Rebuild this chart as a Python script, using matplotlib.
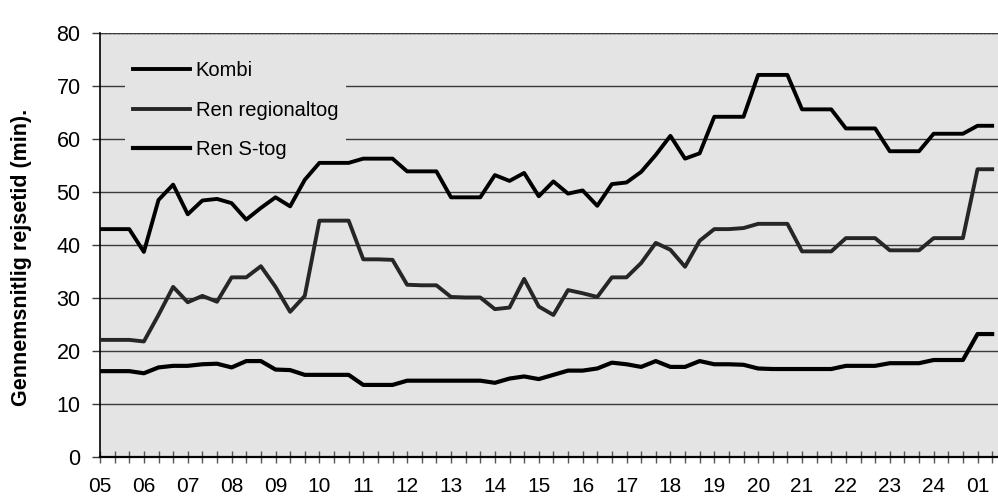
import numpy as np
import matplotlib
matplotlib.use("Agg")
import matplotlib.pyplot as plt

plt.rcParams['font.family'] = ['Liberation Sans', 'DejaVu Sans']

# one value every 20 minutes, 05:00 -> 01:20
kombi = [43, 43, 43, 38.7, 48.5, 51.4, 45.8, 48.4, 48.7, 47.9,
         44.8, 47, 49, 47.3, 52.3, 55.5, 55.5, 55.5, 56.3, 56.3,
         56.3, 53.9, 53.9, 53.9, 49, 49, 49, 53.2, 52.1, 53.6,
         49.2, 52, 49.7, 50.3, 47.4, 51.5, 51.8, 53.8, 57, 60.6,
         56.3, 57.3, 64.2, 64.2, 64.2, 72.1, 72.1, 72.1, 65.6, 65.6,
         65.6, 62, 62, 62, 57.7, 57.7, 57.7, 61, 61, 61,
         62.5, 62.5]
regional = [22.1, 22.1, 22.1, 21.8, 26.8, 32.1, 29.2, 30.4, 29.3, 33.9,
            33.9, 36, 32.1, 27.4, 30.4, 44.6, 44.6, 44.6, 37.3, 37.3,
            37.2, 32.5, 32.4, 32.4, 30.2, 30.1, 30.1, 27.9, 28.2, 33.6,
            28.4, 26.8, 31.5, 30.9, 30.2, 33.9, 33.9, 36.6, 40.4, 39.1,
            35.9, 40.8, 43, 43, 43.2, 44, 44, 44, 38.8, 38.8,
            38.8, 41.3, 41.3, 41.3, 39, 39, 39, 41.3, 41.3, 41.3,
            54.3, 54.3]
stog = [16.2, 16.2, 16.2, 15.8, 16.9, 17.2, 17.2, 17.5, 17.6, 16.9,
        18.1, 18.1, 16.5, 16.4, 15.5, 15.5, 15.5, 15.5, 13.6, 13.6,
        13.6, 14.4, 14.4, 14.4, 14.4, 14.4, 14.4, 14, 14.8, 15.2,
        14.7, 15.5, 16.3, 16.3, 16.7, 17.8, 17.5, 17, 18.1, 17,
        17, 18.1, 17.5, 17.5, 17.4, 16.7, 16.6, 16.6, 16.6, 16.6,
        16.6, 17.2, 17.2, 17.2, 17.7, 17.7, 17.7, 18.3, 18.3, 18.3,
        23.2, 23.2]
hour_labels = ['05', '06', '07', '08', '09', '10', '11', '12', '13', '14',
               '15', '16', '17', '18', '19', '20', '21', '22', '23', '24', '01']
series_names = ['Kombi', 'Ren regionaltog', 'Ren S-tog']

bg = '#e4e4e4'

fig = plt.figure(figsize=(9.98, 4.97), dpi=100)
ax = fig.add_axes([0.1002, 0.0805, 0.8998, 0.853])
ax.set_facecolor(bg)

x = np.arange(len(kombi))
ax.plot(x, kombi, color='black', lw=2.8, label=series_names[0], zorder=3)
ax.plot(x, regional, color='#262626', lw=2.8, label=series_names[1], zorder=3)
ax.plot(x, stog, color='black', lw=3.0, label=series_names[2], zorder=3)

ax.set_xlim(0, 61.4)
ax.set_ylim(0, 80)
ax.set_yticks(np.arange(0, 81, 10))
ax.set_xticks(np.arange(0, 61, 3))
ax.set_xticklabels(hour_labels)
ax.set_xticks(x, minor=True)

ax.yaxis.grid(True, color='#3a3a3a', lw=1.0)
ax.set_axisbelow(True)
for s in ['top', 'right']:
    ax.spines[s].set_visible(False)
ax.spines['left'].set_linewidth(1.2)
ax.spines['bottom'].set_linewidth(1.6)
ax.axhline(80, color='#3a3a3a', lw=1.0, ls=(0, (2, 1)))

ax.tick_params(axis='y', length=6, width=1.0, color='#3a3a3a', pad=8, labelsize=15.5)
ax.tick_params(axis='x', which='both', direction='inout', length=9, width=1.0,
               color='#555555', pad=10, labelsize=15)

ax.set_ylabel('Gennemsnitlig rejsetid (min).', fontsize=15.5, fontweight='bold')
ax.yaxis.set_label_coords(-0.0757, 0.47)

leg = ax.legend(loc='upper left', bbox_to_anchor=(0.028, 0.952), fontsize=14.5,
                frameon=True, facecolor=bg, edgecolor='none', framealpha=1,
                handlelength=2.8, handletextpad=0.3, labelspacing=1.0,
                borderpad=0.4, borderaxespad=0)
leg.set_zorder(2)

fig.savefig('out.png', dpi=100)
